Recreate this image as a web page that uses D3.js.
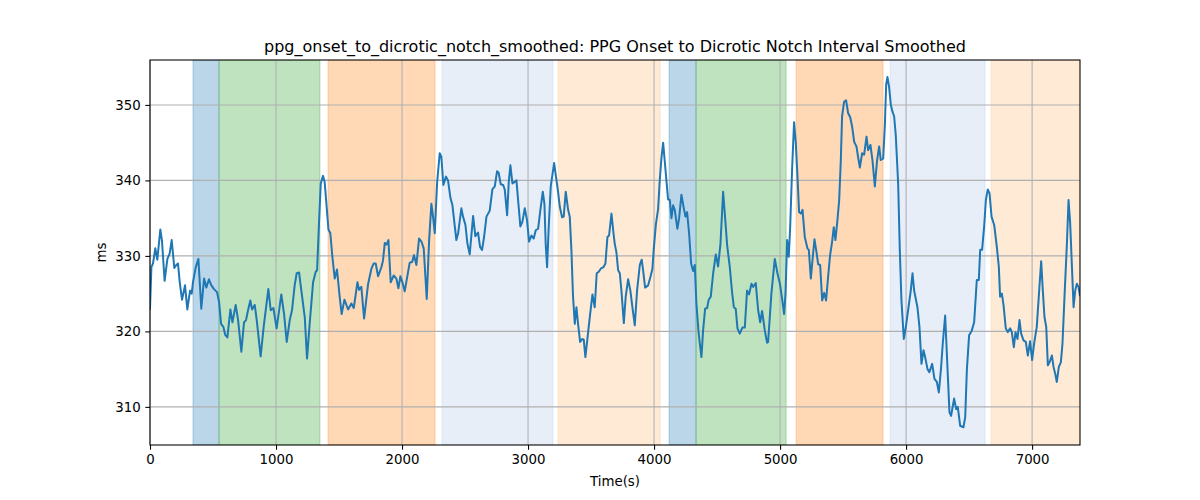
<!DOCTYPE html>
<html>
<head>
<meta charset="utf-8">
<script src="https://cdn.jsdelivr.net/npm/d3@7"></script>
<style>
  body { margin: 0; background: #fff; }
  svg { display: block; font-family: "DejaVu Sans", sans-serif; }
</style>
</head>
<body>
<svg id="chart" width="1200" height="500"></svg>
<script>
const times = [0,11,24,42,58,82,95,116,138,156,172,193,209,222,236,254,278,296,318,331,341,363,384,407,429,447,468,487,508,532,548,564,582,598,614,638,654,680,699,725,746,762,778,796,810,831,847,878,902,939,958,979,1005,1042,1064,1085,1109,1127,1148,1164,1183,1201,
1228,1246,1267,1294,1315,1326,1341,1355,1373,1386,1400,1416,1431,1447,1466,1484,1505,1521,1543,1572,1598,1617,1646,1659,1677,1699,1730,1757,1775,1791,1810,1836,1849,1863,1876,1892,1910,1934,1955,1971,1987,2003,2021,2043,2061,2080,2095,2114,2135,2154,2172,2196,2215,2233,2246,2260,2278,2299,2312,2328,2349,2365,2384,2400,2431,
2445,2471,2484,2503,2519,2537,2564,2582,2603,2619,2635,2651,2670,2696,2717,2736,2754,2767,2783,2802,2815,2834,2847,2860,2876,2894,2908,2921,2939,2955,2974,2992,3008,3027,3045,3061,3080,3098,3117,3130,3140,3151,3164,3180,3207,3220,3238,3252,3270,3283,3299,3318,3331,3344,3357,3371,3384,3397,3413,3429,3442,3455,3471,3490,3511,3529,3545,3561,3577,3598,3614,3630,3643,3662,3678,
3688,3701,3715,3728,3741,3760,3775,3794,3812,3828,3847,3865,3887,3902,3913,3929,3953,3971,3987,3998,4014,4032,4045,4058,4072,4085,4098,4111,4125,4138,4151,4164,4185,4199,4217,4236,4249,4262,4278,4294,4310,4323,4336,4352,4363,4376,4389,4405,4421,4434,4450,4469,4490,4508,4527,4548,4564,4580,4601,4619,4633,4648,4662,4680,4701,4720,4738,4754,4773,4786,4807,4826,4842,4857,4879,4897,
4905,4931,4958,4979,5000,5016,5032,5043,5056,5069,5080,5096,5111,5125,5138,5151,5164,5178,5196,5217,5228,5244,5257,5273,5289,5302,5318,5334,5350,5365,5381,5397,5413,5426,5439,5455,5469,5482,5492,5508,5524,5540,5556,5572,5588,5606,5619,5633,5651,5667,5686,5699,5717,5733,5752,5770,5786,5799,5818,5831,5842,5852,5865,5879,5892,5905,5918,5937,5950,5963,5982,5998,6016,6037,6051,6064,
6090,6106,6122,6138,6151,6170,6185,6207,6225,6244,6260,6278,6291,6310,6328,6344,6357,6381,6397,6410,6429,6455,6469,6482,6500,6521,6540,6561,6577,6588,6603,6619,6633,6648,6662,6678,6699,6720,6736,6746,6760,6773,6791,6807,6826,6839,6855,6868,6884,6900,6913,6932,6950,6966,6984,7000,7016,7037,7056,7072,7085,7098,7112,7125,7138,7157,7170,7183,7196,7212,7228,7241,7257,7276,7289,7302,7315,7329,7342,7355,7368,7379];

const values = [323,328.5,329,331,329.5,333.5,332,326.7,329.6,330.3,332.1,328.4,328.8,329,326.5,324.2,326.1,322.9,325.4,325,326.5,328.5,329.6,323,327,325.8,326.9,326.1,325.6,325.2,323.9,321,320.6,319.5,319.2,322.9,321.2,323.5,321.5,317.3,321.2,321.5,322.8,324.1,322.9,323.5,321.5,316.7,320.6,325.6,322.8,323.1,320.4,324.9,322.3,318.6,321.5,322.8,326.1,327.7,327.8,325.4,
321.9,316.4,321,326.5,327.9,328.1,334.3,339.6,340.6,339.8,336.9,333.5,333,329.9,327,328.2,324.6,322.3,324.2,322.9,323.7,323.1,326.5,325.5,325.9,321.7,326.2,328.3,329,329,327.3,328.5,329.4,331.7,331.5,332.1,326.5,327.4,327,325.7,327.3,326.5,325.3,327.4,329.1,329.2,330.1,328.8,332.3,331.9,331,324.3,332.1,336.9,335.2,333,339.6,343.6,343.1,339.4,340.5,340,337.7,336.7,332.1,
333,336.3,335.2,334.1,331.6,330.2,335.3,332.6,333.1,331.2,330.8,332.5,335.2,336,338.8,339.2,341.2,341,339.5,339.4,338.8,335.4,339.8,342,339.6,339.8,340,337.4,333.9,334.5,336.3,334.7,331.9,332.7,332.3,333.4,333.6,336.1,338.5,336.9,331.6,328.5,333.8,339.2,342.3,340.7,338.5,336.5,335.1,335.2,338.5,336.1,335.2,330.8,324.6,321,323.2,321,318.6,319,318.9,316.6,319,321.9,324.9,323.2,327.7,327.9,328.3,328.5,329,332.5,332.7,335.6,333,
331.6,330.5,328.1,327.7,325.4,321.1,324.6,326.9,325.4,323.2,320.8,325.4,328.8,329.5,328.1,325.8,326.1,327.2,328.3,331,334.1,336.2,340,342.9,345,342.5,340,337.5,337.4,335,336.7,336.1,333.6,335,338.1,336.3,335.2,335.8,333,329,328,328.8,323.7,320.1,318.4,316.6,320.1,323,323.1,324.2,324.6,327.7,330.2,328.6,331.6,338.5,335,331.4,328.5,325.2,323.2,323,320.4,319.7,320.5,320.5,325.4,324.9,326.3,325.9,326.4,322.8,321.2,322.7,320.1,318.5,
318.6,325,329.6,327.7,326.2,324.3,322.3,325,332.1,329.9,333.8,341.8,347.7,344.9,340.5,335.8,335.6,336.1,332.5,331,330.8,327,329.4,332.2,330.5,328.9,328.8,324.1,325.1,324.1,327.2,330.1,331.9,333.8,332.1,334.7,337.4,342.7,348.5,350.4,350.6,348.9,348.4,347.1,345.1,344.5,343.1,341.7,343.6,343.4,345.8,344,344.7,342.7,339.2,342.7,344.5,342.7,342.9,347.1,352.7,353.7,352.4,350,349.1,348.5,346,339.6,330.8,324.1,319,320.6,322.8,325.4,327.7,325.4,
323.2,320.6,315.7,317.5,316.6,315,314.6,315.7,313.7,313.3,311.9,315.3,318.4,322.1,315.3,309.3,308.8,311.1,309.7,310,307.5,307.3,308.6,314.8,319.5,320.1,321.2,326.8,326.8,330.8,330.8,333.8,337.4,338.8,338.3,335.2,334.1,331.2,328.5,324.6,325,323.5,320.4,319.9,320.4,319.9,317.9,319.9,319,321.5,319.7,318.8,318.6,316.8,318.7,316.2,318.4,320.6,325.4,329.3,325.4,321.9,320.6,315.5,315.9,316.8,315.3,314.4,313.3,315.3,315.9,318.4,324.6,331.6,337.4,334.3,329,323.2,325.4,326.3,325.9,324.8];

const bandStarts = [341, 548, 1413, 2317, 3238, 4119, 4333, 5127, 5873, 6675];
const bandEnds   = [548, 1349, 2262, 3198, 4048, 4333, 5048, 5817, 6627, 7380];
const bandColors = ["#1f77b4", "#2ca02c", "#ff7f0e", "#aec7e8", "#ffbb78", "#1f77b4", "#2ca02c", "#ff7f0e", "#aec7e8", "#ffbb78"];

const xTicks = [0, 1000, 2000, 3000, 4000, 5000, 6000, 7000];
const yTicks = [310, 320, 330, 340, 350];

const titleText = "ppg_onset_to_dicrotic_notch_smoothed: PPG Onset to Dicrotic Notch Interval Smoothed";
const xLabel = "Time(s)";
const yLabel = "ms";

const W = 1200, H = 500;
const m = { left: 150, right: 120, top: 60, bottom: 55 };
const iw = W - m.left - m.right, ih = H - m.top - m.bottom;

const svg = d3.select("#chart");
const g = svg.append("g").attr("transform", `translate(${m.left},${m.top})`);

const x = d3.scaleLinear().domain([0, 7380]).range([0, iw]);
const y = d3.scaleLinear().domain([304.95, 355.95]).range([ih, 0]);

const defs = svg.append("defs");
defs.append("clipPath").attr("id", "clip").append("rect").attr("width", iw).attr("height", ih);

// bands
g.append("g").attr("clip-path", "url(#clip)").selectAll("rect")
  .data(bandStarts.map((s, i) => ({ s, e: bandEnds[i], c: bandColors[i] })))
  .join("rect")
  .attr("x", d => x(d.s)).attr("y", 0)
  .attr("width", d => x(d.e) - x(d.s)).attr("height", ih)
  .attr("fill", d => d.c).attr("fill-opacity", 0.3)
  .attr("stroke", d => d.c).attr("stroke-opacity", 0.3).attr("stroke-width", 1);

// grid
const grid = g.append("g");
grid.selectAll(".gx").data(xTicks).join("line")
  .attr("x1", d => x(d)).attr("x2", d => x(d)).attr("y1", 0).attr("y2", ih)
  .attr("stroke", "#b0b0b0").attr("stroke-width", 1.07);
grid.selectAll(".gy").data(yTicks).join("line")
  .attr("x1", 0).attr("x2", iw).attr("y1", d => y(d)).attr("y2", d => y(d))
  .attr("stroke", "#b0b0b0").attr("stroke-width", 1.07);

// line
const line = d3.line().x((d, i) => x(times[i])).y(d => y(d));
g.append("path").attr("clip-path", "url(#clip)")
  .datum(values)
  .attr("d", line)
  .attr("fill", "none")
  .attr("stroke", "#1f77b4")
  .attr("stroke-width", 2)
  .attr("stroke-linejoin", "round")
  .attr("stroke-linecap", "square");

// axes
const xAxis = d3.axisBottom(x).tickValues(xTicks).tickSize(4.67).tickPadding(4.67).tickFormat(d3.format("d"));
const yAxis = d3.axisLeft(y).tickValues(yTicks).tickSize(4.67).tickPadding(4.67).tickFormat(d3.format("d"));

const gx = g.append("g").attr("transform", `translate(0,${ih})`).call(xAxis);
const gy = g.append("g").call(yAxis);
[gx, gy].forEach(a => {
  a.select(".domain").remove();
  a.selectAll("line").attr("stroke", "#000").attr("stroke-width", 1.07);
  a.selectAll("text").attr("fill", "#000").style("font-size", "13.33px").style("font-family", "DejaVu Sans, sans-serif");
});

// spines
g.append("rect").attr("width", iw).attr("height", ih)
  .attr("fill", "none").attr("stroke", "#000").attr("stroke-width", 1.07);

// texts
svg.append("text").attr("x", m.left + iw / 2).attr("y", 52)
  .attr("text-anchor", "middle").style("font-size", "16px").attr("fill", "#000")
  .text(titleText);
svg.append("text").attr("x", m.left + iw / 2).attr("y", 486)
  .attr("text-anchor", "middle").style("font-size", "13.33px").attr("fill", "#000")
  .text(xLabel);
svg.append("text").attr("transform", `translate(106,${m.top + ih / 2}) rotate(-90)`)
  .attr("text-anchor", "middle").style("font-size", "13.33px").attr("fill", "#000")
  .text(yLabel);
</script>
</body>
</html>
